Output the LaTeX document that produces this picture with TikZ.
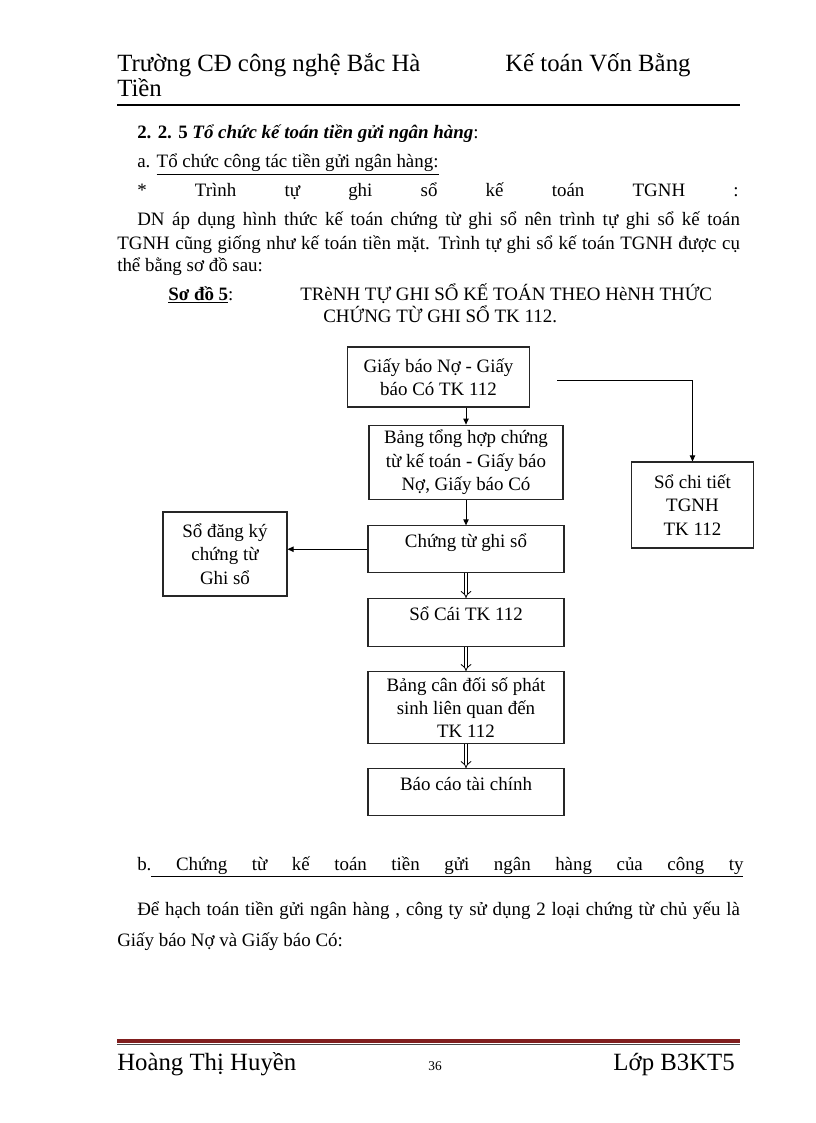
\documentclass[tikz,border=0pt]{standalone}
\usepackage{fontspec}
\setmainfont{Liberation Serif}
\usetikzlibrary{arrows.meta, positioning}
\definecolor{footred}{RGB}{128,30,30}
\newcommand{\bodysize}{\fontsize{14.2}{17.5}\selectfont}
\newcommand{\headsize}{\fontsize{18.6}{22}\selectfont}

\begin{document}
\begin{tikzpicture}[
    x=0.75pt, y=-0.75pt,
    every node/.style={font=\bodysize, inner sep=0pt},
    txt/.style={anchor=base west},
    box/.style={draw=black!85, line width=0.8pt, align=center, inner sep=3pt},
    colbox/.style={box, minimum width=147pt},
    flow/.style={-{Triangle[length=4.5pt, width=4pt]}, line width=0.7pt},
    dflow/.style={double, double distance=2.2pt, line width=0.6pt, -{Implies}},
]
\useasboundingbox (0,0) rectangle (816,1123);
\node[txt, font=\headsize] (school) at (117,72) {Trường CĐ công nghệ Bắc Hà};
\node[txt, font=\headsize] (subject) at (505,72) {Kế toán Vốn Bằng};
\node[txt, font=\headsize] (subjecttail) at (117,97) {Tiền};
\draw[line width=2.2pt] (117,105) -- (740,105);
\node[txt] (section) at (137,139) {\textbf{2. 2. 5 \textit{Tổ chức kế toán tiền gửi ngân hàng}}:};
\node[txt] (parta) at (137,168) {a. \underline{Tổ chức công tác tiền gửi ngân hàng:}};
\node[txt] (seq) at (137,197) {\makebox[451pt][s]{* Trình tự ghi sổ kế toán TGNH :}};
\node[txt] (para1) at (137,226) {\makebox[452pt][s]{DN áp dụng hình thức kế toán chứng từ ghi sổ nên trình tự ghi sổ kế toán}};
\node[txt] (para2) at (117,249) {\makebox[467pt][s]{TGNH cũng giống như kế toán tiền mặt. Trình tự ghi sổ kế toán TGNH được cụ}};
\node[txt] (para3) at (117,271) {thể bằng sơ đồ sau:};
\node[txt] (fig) at (168,300) {\textbf{\underline{Sơ đồ 5}}:};
\node[txt] (title1) at (300,300) {TRèNH TỰ GHI SỔ KẾ TOÁN THEO HèNH THỨC};
\node[txt] (title2) at (323,322) {CHỨNG TỪ GHI SỔ TK 112.};

\node[box, minimum width=137pt, minimum height=45pt] (bao) at (438.5,377) {Giấy báo Nợ - Giấy\\ báo Có TK 112};
\node[box, minimum width=145.5pt, minimum height=56pt] (tonghop) at (466,462.5) {Bảng tổng hợp chứng\\ từ kế toán - Giấy báo\\ Nợ, Giấy báo Có};
\node[colbox, minimum height=35pt, text depth=13pt, below=18.75pt of tonghop] (ctgs) {Chứng từ ghi sổ};
\node[colbox, minimum height=36pt, text depth=13pt, below=18.75pt of ctgs] (socai) {Sổ Cái TK 112};
\node[colbox, minimum height=54pt, below=18pt of socai] (cdps) {Bảng cân đối số phát\\ sinh liên quan đến\\ TK 112};
\node[colbox, minimum height=35pt, text depth=13pt, below=18pt of cdps] (bctc) {Báo cáo tài chính};
\node[box, minimum width=93pt, minimum height=63pt] (dangky) at (225,554) {Sổ đăng ký\\ chứng từ\\ Ghi sổ};
\node[box, minimum width=92pt, minimum height=64.5pt] (chitiet) at (692.5,505) {Sổ chi tiết\\ TGNH\\ TK 112};
\coordinate (tap) at (557,380);

\draw[flow] (bao.south -| tonghop.north) -- (tonghop.north);
\draw[flow] (tonghop) -- (ctgs);
\draw[flow] (ctgs.west) -- (ctgs.west -| dangky.east);
\draw[flow] (tap) -| (chitiet.north);
\draw[dflow] (ctgs) -- (socai);
\draw[dflow] (socai) -- (cdps);
\draw[dflow] (cdps) -- (bctc);

\node[txt] (partb) at (137,870) {b.\underline{\makebox[444pt][s]{\ Chứng từ kế toán tiền gửi ngân hàng của công ty}}};
\node[txt] (para4) at (137,915) {\makebox[452pt][s]{Để hạch toán tiền gửi ngân hàng , công ty sử dụng 2 loại chứng từ chủ yếu là}};
\node[txt] (para5) at (117,946) {Giấy báo Nợ và Giấy báo Có:};

\draw[line width=2.4pt, footred] (117,1041) -- (740,1041);
\draw[line width=0.5pt, black!70] (117,1044.5) -- (740,1044.5);
\node[txt, font=\headsize] (author) at (117,1070) {Hoàng Thị Huyền};
\node[anchor=base, font=\fontsize{10}{12}\selectfont] (page) at (435,1070) {36};
\node[anchor=base east, font=\headsize] (class) at (735,1070) {Lớp B3KT5};
\end{tikzpicture}
\end{document}
